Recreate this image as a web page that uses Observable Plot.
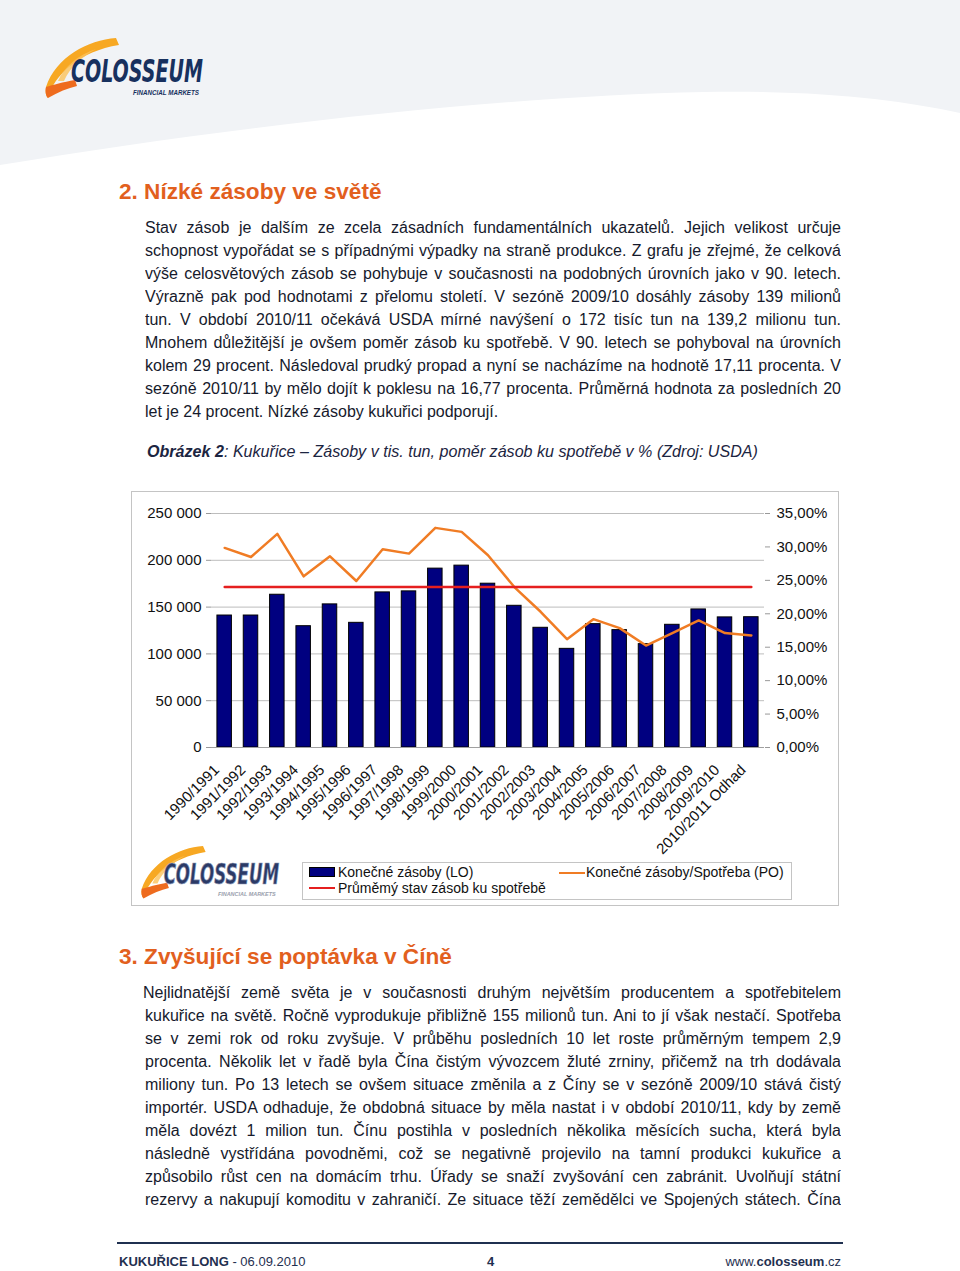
<!DOCTYPE html>
<html><head><meta charset="utf-8">
<script src="https://cdn.jsdelivr.net/npm/d3@7"></script>
<script src="https://cdn.jsdelivr.net/npm/@observablehq/plot@0.6"></script>
<style>
body{margin:0;width:960px;height:1271px;position:relative;background:#fff;font-family:"Liberation Sans",Arial,sans-serif;overflow:hidden}
.abs{position:absolute}
h2{position:absolute;margin:0;font-size:22.6px;font-weight:bold;color:#E2601E;line-height:26px;white-space:nowrap}
.para{position:absolute;left:145px;width:696px;font-size:16px;line-height:23px;color:#161a2c}
.para div{height:23px;overflow:hidden;text-align:justify;text-align-last:justify;word-spacing:-1.5px}
.para div.last{text-align:left;text-align-last:left;word-spacing:0}
.caption{position:absolute;left:147px;top:440px;font-size:16.1px;line-height:22px;font-style:italic;color:#1c2541;white-space:nowrap}
#chartbox{position:absolute;left:131px;top:491px;width:708px;height:415px;box-sizing:border-box;border:1px solid #c4c4c4}
#chart{position:absolute;left:131px;top:491px}
#legend{position:absolute;left:302px;top:862px;width:490px;height:38px;box-sizing:border-box;border:1px solid #c4c4c4;font-size:14px;color:#111}
#legend .it{position:absolute;white-space:nowrap;line-height:16px}
#legend .sw{position:absolute}
.footer{position:absolute;top:1254px;font-size:13px;line-height:16px;color:#1f3050;white-space:nowrap}
svg.logo{overflow:visible}
</style></head>
<body>
<svg class="abs" style="left:0;top:0" width="960" height="175">
  <path d="M0,0 H960 V113 C900,100 820,90 704,92 C500,96 220,128 0,165 Z" fill="#f1f3f6"/>
</svg>
<div id="logoTop" class="abs" style="left:44px;top:37px"></div>

<h2 style="left:119px;top:179px">2. Nízké zásoby ve světě</h2>
<div class="para" style="top:216px">
<div>Stav zásob je dalším ze zcela zásadních fundamentálních ukazatelů. Jejich velikost určuje</div>
<div>schopnost vypořádat se s případnými výpadky na straně produkce. Z grafu je zřejmé, že celková</div>
<div>výše celosvětových zásob se pohybuje v současnosti na podobných úrovních jako v 90. letech.</div>
<div>Výrazně pak pod hodnotami z přelomu století. V sezóně 2009/10 dosáhly zásoby 139 milionů</div>
<div>tun. V období 2010/11 očekává USDA mírné navýšení o 172 tisíc tun na 139,2 milionu tun.</div>
<div>Mnohem důležitější je ovšem poměr zásob ku spotřebě. V 90. letech se pohyboval na úrovních</div>
<div>kolem 29 procent. Následoval prudký propad a nyní se nacházíme na hodnotě 17,11 procenta. V</div>
<div>sezóně 2010/11 by mělo dojít k poklesu na 16,77 procenta. Průměrná hodnota za posledních 20</div>
<div class="last">let je 24 procent. Nízké zásoby kukuřici podporují.</div>
</div>
<div class="caption"><b>Obrázek 2</b>: Kukuřice – Zásoby v tis. tun, poměr zásob ku spotřebě v % (Zdroj: USDA)</div>

<div id="chartbox"></div>
<div id="chart"></div>
<div id="logoChart" class="abs" style="left:140px;top:845px"></div>
<div id="legend">
  <div class="sw" style="left:6px;top:4px;width:24px;height:8px;background:#000080;border:1px solid #000"></div>
  <div class="it" style="left:35px;top:1px">Konečné zásoby (LO)</div>
  <div class="sw" style="left:6px;top:24px;width:26px;height:2px;background:#E51F1F"></div>
  <div class="it" style="left:35px;top:17px">Průměmý stav zásob ku spotřebě</div>
  <div class="sw" style="left:256px;top:9px;width:26px;height:2px;background:#F07C24"></div>
  <div class="it" style="left:283px;top:1px">Konečné zásoby/Spotřeba (PO)</div>
</div>

<h2 style="left:119px;top:944px">3. Zvyšující se poptávka v Číně</h2>
<div class="para" style="top:981px">
<div style="margin-left:-2px;width:698px">Nejlidnatější země světa je v současnosti druhým největším producentem a spotřebitelem</div>
<div>kukuřice na světě. Ročně vyprodukuje přibližně 155 milionů tun. Ani to jí však nestačí. Spotřeba</div>
<div>se v zemi rok od roku zvyšuje. V průběhu posledních 10 let roste průměrným tempem 2,9</div>
<div>procenta. Několik let v řadě byla Čína čistým vývozcem žluté zrniny, přičemž na trh dodávala</div>
<div>miliony tun. Po 13 letech se ovšem situace změnila a z Číny se v sezóně 2009/10 stává čistý</div>
<div>importér. USDA odhaduje, že obdobná situace by měla nastat i v období 2010/11, kdy by země</div>
<div>měla dovézt 1 milion tun. Čínu postihla v posledních několika měsících sucha, která byla</div>
<div>následně vystřídána povodněmi, což se negativně projevilo na tamní produkci kukuřice a</div>
<div>způsobilo růst cen na domácím trhu. Úřady se snaží zvyšování cen zabránit. Uvolňují státní</div>
<div>rezervy a nakupují komoditu v zahraničí. Ze situace těží zemědělci ve Spojených státech. Čína</div>
</div>

<div class="abs" style="left:117px;top:1242px;width:726px;height:2px;background:#1f3050"></div>
<div class="footer" style="left:119px"><b>KUKUŘICE LONG</b> - 06.09.2010</div>
<div class="footer" style="left:487px"><b>4</b></div>
<div class="footer" style="right:119px">www.<b>colosseum</b>.cz</div>

<script>
// ---- data ----
const categories = ["1990/1991","1991/1992","1992/1993","1993/1994","1994/1995","1995/1996","1996/1997","1997/1998","1998/1999","1999/2000","2000/2001","2001/2002","2002/2003","2003/2004","2004/2005","2005/2006","2006/2007","2007/2008","2008/2009","2009/2010","2010/2011 Odhad"];
const endingStocks = [141000,141000,163200,129600,152900,133200,165700,166800,191100,194300,175000,151400,127900,105400,131800,125400,110400,131100,147500,139000,139200];
const stocksToUse = [29.85,28.5,31.95,25.6,28.6,24.9,29.65,29.0,32.85,32.25,28.75,24.0,20.3,16.2,19.2,17.85,15.25,17.1,19.0,17.11,16.77];
const averageRatio = 24.0;
const leftTicks = [0,50000,100000,150000,200000,250000];
const rightTicks = [0,5,10,15,20,25,30,35];

const yMax = 250000, pctMax = 35, K = yMax / pctMax;
const rows = categories.map((c, i) => ({cat: c, stock: endingStocks[i], pct: stocksToUse[i], avg: averageRatio}));
const fmtLeft = v => d3.format(",")(v).replace(/,/g, " ");
const fmtRight = v => (Math.round(v / K * 100) / 100).toFixed(2).replace(".", ",") + "%";

const chart = Plot.plot({
  width: 708, height: 360,
  marginLeft: 80, marginRight: 75, marginTop: 22, marginBottom: 104,
  style: {fontFamily: '"Liberation Sans", Arial, sans-serif', fontSize: "15px", color: "#111", background: "transparent", overflow: "visible"},
  x: {domain: categories, paddingInner: 0.45, paddingOuter: 0.225, round: false, label: null},
  y: {domain: [0, yMax], label: null},
  marks: [
    Plot.gridY(leftTicks, {stroke: "#bdbdbd", strokeOpacity: 1}),
    Plot.barY(rows, {x: "cat", y: "stock", fill: "#000080", stroke: "#000", strokeWidth: 1}),
    Plot.ruleY([0], {stroke: "#a0a0a0"}),
    Plot.lineY(rows, {x: "cat", y: d => d.pct * K, stroke: "#F07C24", strokeWidth: 2.5}),
    Plot.lineY(rows, {x: "cat", y: d => d.avg * K, stroke: "#E51F1F", strokeWidth: 2.5}),
    Plot.axisY(leftTicks, {anchor: "left", tickFormat: fmtLeft, tickSize: 5, tickPadding: 5, stroke: "#999", label: null}),
    Plot.axisY(rightTicks.map(p => p * K), {anchor: "right", tickFormat: fmtRight, tickSize: 5, tickPadding: 7, stroke: "#999", label: null}),
    Plot.axisX({tickRotate: -45, tickSize: 0, tickPadding: 20, dx: -8, label: null})
  ]
});
document.getElementById("chart").appendChild(chart);

// ---- logos (decoration) ----
function logo(scale, muted) {
  const navy = muted ? "#2b3a66" : "#17305e";
  const w = 160 * scale, h = 62 * scale;
  return `<svg class="logo" width="${w}" height="${h}" viewBox="0 0 160 62">
    <path d="M72,1 C44,3 12,20 2,50 C1,55 2,59 4,61 C10,38 36,14 75,8 Z" fill="#F7A823"/>
    <path d="M2,50 C1,55 2,59 4,61 C14,55 24,51 33,49 L31,43 C19,45 9,48 2,50 Z" fill="#EE6B1E"/>
    <path d="M14,44 C20,30 34,18 52,12 C38,20 26,30 20,44 Z" fill="#FBC25A" opacity="0.8"/>
    <text x="27" y="45" font-family="'Liberation Sans Narrow','DejaVu Sans Condensed','Liberation Sans',sans-serif" font-weight="bold" font-style="italic" font-size="32" fill="${navy}" ${muted ? 'stroke="#8e99b5" stroke-width="0.8"' : ''} textLength="132" lengthAdjust="spacingAndGlyphs">COLOSSEUM</text>
    <text x="89" y="58" font-family="'Liberation Sans Narrow','Liberation Sans',sans-serif" font-weight="bold" font-style="italic" font-size="7" fill="${muted ? '#9aa0ad' : navy}" textLength="66" lengthAdjust="spacingAndGlyphs">FINANCIAL MARKETS</text>
  </svg>`;
}
document.getElementById("logoTop").innerHTML = logo(1, false);
document.getElementById("logoChart").innerHTML = logo(140 / 160, true);
</script>
</body></html>
